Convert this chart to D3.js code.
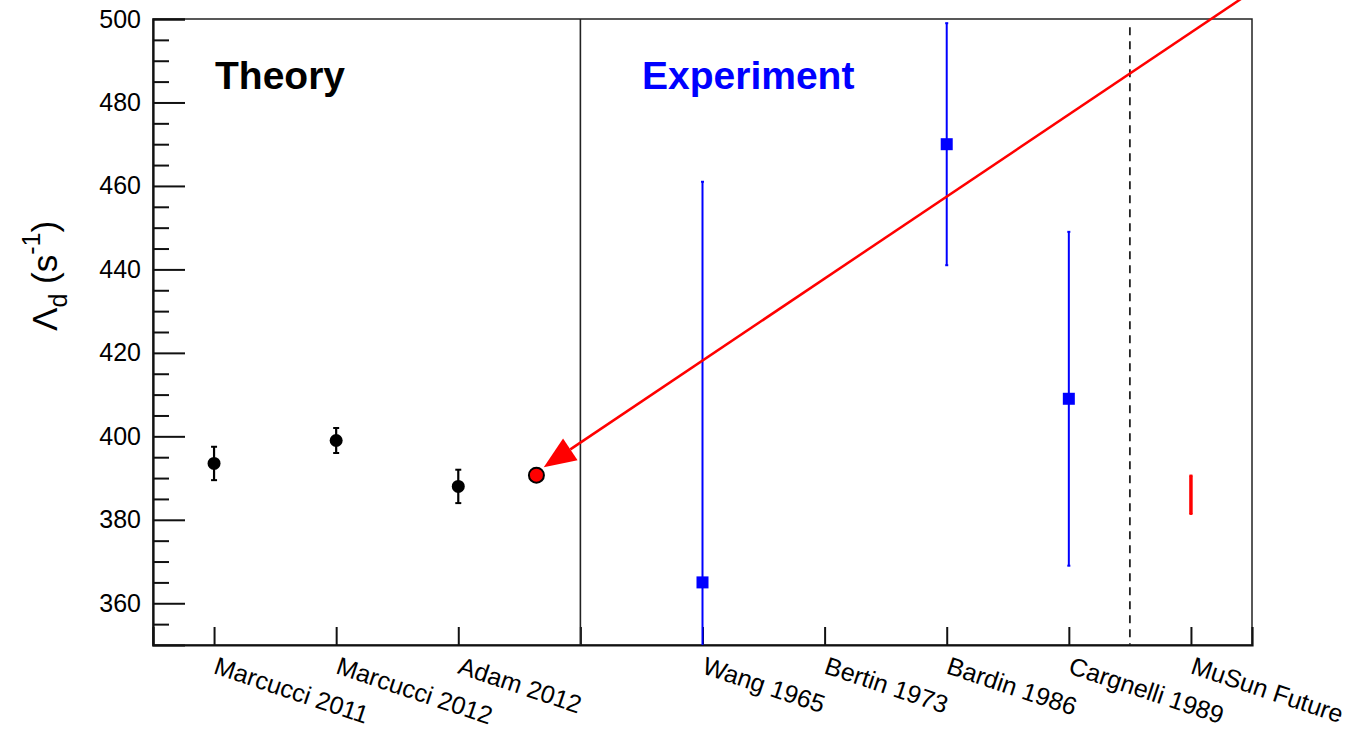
<!DOCTYPE html>
<html>
<head>
<meta charset="utf-8">
<script src="https://cdnjs.cloudflare.com/ajax/libs/d3/7.8.5/d3.min.js"></script>
<style>
  body { margin: 0; background: #fff; }
  text { font-family: "Liberation Sans", Arial, Helvetica, sans-serif; }
</style>
</head>
<body>
<script>
// category slots along x (slot 3 is the theory / experiment divider)
var categories = ["Marcucci 2011", "Marcucci 2012", "Adam 2012", "", "Wang 1965", "Bertin 1973", "Bardin 1986", "Cargnelli 1989", "MuSun Future"]

// theory calculations
var theoryPos = [0, 1, 2]
var theoryVal = [393.5, 399, 388]
var theoryErr = [4, 3, 4]

// experiments (Bertin 1973 has no point in range)
var expPos = [4, 6, 7]
var expVal = [365, 470, 409]
var expErr = [96, 29, 40]

// future measurement
var futurePos = [8]
var futureVal = [386]
var futureErr = [4.6]

// highlighted point and arrow pointing to it
var highlight = [2.64, 390.7]
var arrowFrom = [8.46, 505.8]
var arrowTo = [2.70, 392.6]

var yMajor = [360, 380, 400, 420, 440, 460, 480, 500]
var yMinor = d3.range(355, 500, 5).filter(function (v) { return v % 20 != 0 })

var w = 1351
var h = 731
var pl = 153, pr = 1252, pt = 19, pb = 645

var x = d3.scaleLinear().domain([-0.5, 8.5]).range([pl, pr])
var y = d3.scaleLinear().domain([350, 500]).range([pb, pt])

var svg = d3.select("body")
    .append("svg")
    .attr("width", w)
    .attr("height", h)

svg.append("defs").append("clipPath").attr("id", "plot")
    .append("rect")
    .attr("x", pl).attr("y", pt)
    .attr("width", pr - pl).attr("height", pb - pt)

// frame
svg.append("rect")
    .attr("x", pl).attr("y", pt)
    .attr("width", pr - pl).attr("height", pb - pt)
    .attr("fill", "none")
    .attr("stroke", "#222")
    .attr("stroke-width", 1.5)

// y axis, ticks inside
var yAxis = svg.append("g")
    .attr("transform", "translate(" + pl + ",0)")
    .call(d3.axisLeft(y).tickValues(yMajor).tickSize(-32).tickPadding(12))
svg.append("g")
    .attr("transform", "translate(" + pl + ",0)")
    .call(d3.axisLeft(y).tickValues(yMinor).tickSize(-16).tickFormat(""))
    .select(".domain").remove()

yAxis.selectAll("text")
    .style("font-size", "25px")
    .attr("fill", "#000")

// x axis, ticks inside
var xAxis = svg.append("g")
    .attr("transform", "translate(0," + pb + ")")
    .call(d3.axisBottom(x).tickValues(d3.range(categories.length)).tickSize(-18)
        .tickFormat(function (i) { return categories[i] }))

xAxis.selectAll("text")
    .attr("x", 0).attr("y", 0).attr("dy", 0)
    .attr("transform", "translate(-2,28) rotate(18.5)")
    .style("text-anchor", "start")
    .style("font-size", "25px")
    .attr("fill", "#000")

svg.selectAll(".domain").attr("stroke", "#111").attr("stroke-width", 2.2)
svg.selectAll(".tick line").attr("stroke", "#111").attr("stroke-width", 2)

// separators
svg.append("line")
    .attr("x1", x(3)).attr("x2", x(3))
    .attr("y1", pt).attr("y2", pb)
    .attr("stroke", "#222").attr("stroke-width", 1.6)

svg.append("line")
    .attr("x1", x(7.5)).attr("x2", x(7.5))
    .attr("y1", y(498)).attr("y2", pb)
    .attr("stroke", "#222").attr("stroke-width", 1.8)
    .attr("stroke-dasharray", "8,6")

// section titles
svg.append("text")
    .attr("x", 215).attr("y", 89)
    .style("font-size", "39px").style("font-weight", "bold")
    .text("Theory")
svg.append("text")
    .attr("x", 642).attr("y", 89)
    .style("font-size", "39px").style("font-weight", "bold")
    .attr("fill", "#0000ff")
    .text("Experiment")

// y title
var yt = svg.append("text")
    .attr("transform", "translate(57,331) rotate(-90)")
    .style("font-size", "35px")
yt.append("tspan").text("\u039B")
yt.append("tspan").attr("dy", 10).style("font-size", "25px").text("d")
yt.append("tspan").attr("dy", -10).text(" (s")
yt.append("tspan").attr("dy", -17).style("font-size", "25px").text("-1")
yt.append("tspan").attr("dy", 17).text(")")

var plot = svg.append("g").attr("clip-path", "url(#plot)")

function errorBars(pos, val, err, color, width, cap) {
    var g = plot.append("g")
    g.selectAll(".bar").data(pos).enter().append("line")
        .attr("x1", function (d) { return x(d) }).attr("x2", function (d) { return x(d) })
        .attr("y1", function (d, i) { return y(val[i] + err[i]) })
        .attr("y2", function (d, i) { return y(val[i] - err[i]) })
        .attr("stroke", color).attr("stroke-width", width)
    ;[1, -1].forEach(function (s) {
        g.selectAll(".cap" + s).data(pos).enter().append("line")
            .attr("x1", function (d) { return x(d) - cap }).attr("x2", function (d) { return x(d) + cap })
            .attr("y1", function (d, i) { return y(val[i] + s * err[i]) })
            .attr("y2", function (d, i) { return y(val[i] + s * err[i]) })
            .attr("stroke", color).attr("stroke-width", 2)
    })
}

errorBars(theoryPos, theoryVal, theoryErr, "#000", 2.2, 3)
plot.selectAll(".theory").data(theoryPos).enter().append("circle")
    .attr("cx", function (d) { return x(d) })
    .attr("cy", function (d, i) { return y(theoryVal[i]) })
    .attr("r", 6.5)
    .attr("fill", "#000")

errorBars(expPos, expVal, expErr, "#0000ff", 2, 1.5)
plot.selectAll(".exp").data(expPos).enter().append("rect")
    .attr("x", function (d) { return x(d) - 6 })
    .attr("y", function (d, i) { return y(expVal[i]) - 6 })
    .attr("width", 12).attr("height", 12)
    .attr("fill", "#0000ff")

errorBars(futurePos, futureVal, futureErr, "#ff0000", 3.5, 1.5)

// arrow
var ax1 = x(arrowFrom[0]), ay1 = y(arrowFrom[1])
var ax2 = x(arrowTo[0]), ay2 = y(arrowTo[1])
var ang = Math.atan2(ay2 - ay1, ax2 - ax1)
var headLen = 32, headHalf = 13
var bx = ax2 - headLen * Math.cos(ang), by = ay2 - headLen * Math.sin(ang)
svg.append("line")
    .attr("x1", ax1).attr("y1", ay1).attr("x2", bx).attr("y2", by)
    .attr("stroke", "#ff0000").attr("stroke-width", 2.5)
svg.append("path")
    .attr("d", "M" + ax2 + "," + ay2 +
        "L" + (bx + headHalf * Math.sin(ang)) + "," + (by - headHalf * Math.cos(ang)) +
        "L" + (bx - headHalf * Math.sin(ang)) + "," + (by + headHalf * Math.cos(ang)) + "Z")
    .attr("fill", "#ff0000")

svg.append("circle")
    .attr("cx", x(highlight[0])).attr("cy", y(highlight[1]))
    .attr("r", 7.5)
    .attr("fill", "#ff0000").attr("stroke", "#000").attr("stroke-width", 2)
</script>
</body>
</html>
